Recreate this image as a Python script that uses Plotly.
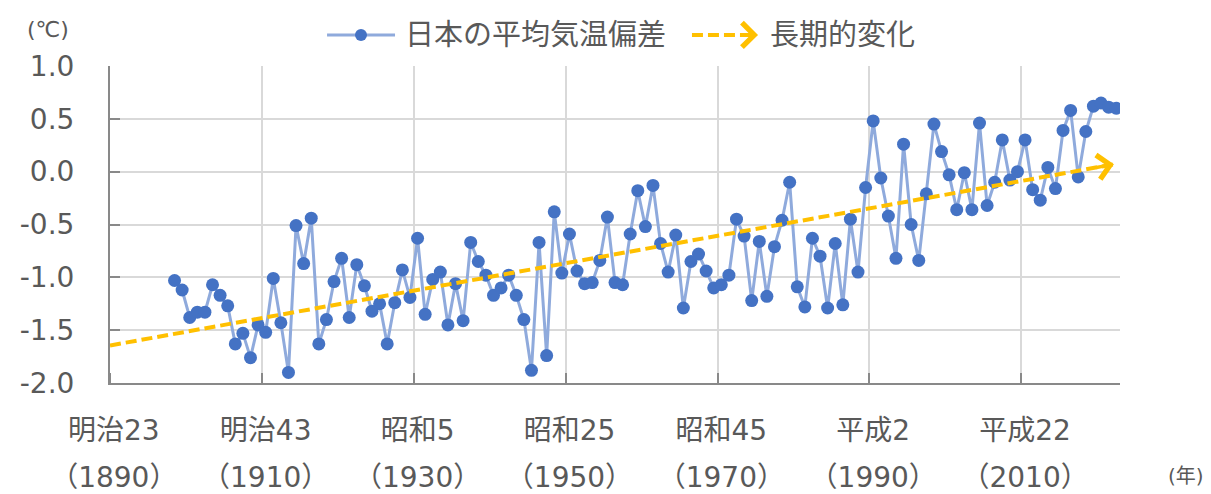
import plotly.graph_objects as go

# ---- data ----
years = list(range(1898, 2023))
anomaly = [
    -1.03, -1.12,                                                   # 1898-1899
    -1.38, -1.33, -1.33, -1.07, -1.17, -1.27, -1.63, -1.53, -1.76, -1.45,  # 1900s
    -1.52, -1.01, -1.43, -1.90, -0.51, -0.87, -0.44, -1.63, -1.40, -1.04,  # 1910s
    -0.82, -1.38, -0.88, -1.08, -1.32, -1.25, -1.63, -1.24, -0.93, -1.19,  # 1920s
    -0.63, -1.35, -1.02, -0.95, -1.45, -1.06, -1.41, -0.67, -0.85, -0.98,  # 1930s
    -1.17, -1.10, -0.98, -1.17, -1.40, -1.88, -0.67, -1.74, -0.38, -0.96,  # 1940s
    -0.59, -0.94, -1.06, -1.05, -0.84, -0.43, -1.05, -1.07, -0.59, -0.18,  # 1950s
    -0.52, -0.13, -0.68, -0.95, -0.60, -1.29, -0.85, -0.78, -0.94, -1.10,  # 1960s
    -1.07, -0.98, -0.45, -0.61, -1.22, -0.66, -1.18, -0.71, -0.46, -0.10,  # 1970s
    -1.09, -1.28, -0.63, -0.80, -1.29, -0.68, -1.26, -0.45, -0.95, -0.15,  # 1980s
    0.48, -0.06, -0.42, -0.82, 0.26, -0.50, -0.84, -0.21, 0.45, 0.19,      # 1990s
    -0.03, -0.36, -0.01, -0.36, 0.46, -0.32, -0.10, 0.30, -0.08, 0.00,     # 2000s
    0.30, -0.17, -0.27, 0.04, -0.16, 0.39, 0.58, -0.05, 0.38, 0.62,        # 2010s
    0.65, 0.61, 0.60,                                               # 2020-2022
]
trend_years = [1889.5, 2021.7]
trend_values = [-1.645, 0.07]

era_years = [1890, 1910, 1930, 1950, 1970, 1990, 2010]
era_labels = ["明治23", "明治43", "昭和5", "昭和25", "昭和45", "平成2", "平成22"]
year_labels = ["（1890）", "（1910）", "（1930）", "（1950）", "（1970）", "（1990）", "（2010）"]
y_ticks = [-2.0, -1.5, -1.0, -0.5, 0.0, 0.5, 1.0]
y_tick_labels = ["-2.0", "-1.5", "-1.0", "-0.5", "0.0", "0.5", "1.0"]

series_name = "日本の平均気温偏差"
trend_name = "長期的変化"

FONT = "DejaVu Sans, Noto Sans CJK JP, sans-serif"
TXT = "#595959"
GRID = "#d9d9d9"
AXIS = "#898989"
GOLD = "#FFC000"
LINE_BLUE = "#8FAADC"
DOT_BLUE = "#4472C4"
XR = [1889.5, 2022.5]
TREND_DASH = "11px,5px"

fig = go.Figure()
fig.add_trace(go.Scatter(
    x=years, y=anomaly, name=series_name, mode="lines+markers",
    line=dict(color=LINE_BLUE, width=3),
    marker=dict(color=DOT_BLUE, size=13, line=dict(width=0)),
    showlegend=False,
))
fig.add_trace(go.Scatter(
    x=trend_years, y=trend_values, name=trend_name, mode="lines",
    line=dict(color=GOLD, width=4, dash=TREND_DASH),
    showlegend=False,
))
# carrier for the second row of x labels (Western years)
fig.add_trace(go.Scatter(
    x=era_years, y=[None] * len(era_years), xaxis="x2", yaxis="y",
    mode="markers", showlegend=False, hoverinfo="skip",
))

# arrow head of the trend line
slope = (trend_values[-1] - trend_values[0]) / (trend_years[-1] - trend_years[0])
fig.add_annotation(
    x=trend_years[-1], y=trend_values[-1], xref="x", yref="y",
    ax=trend_years[-1] - 2.5, ay=trend_values[-1] - slope * 2.5,
    axref="x", ayref="y", text="", showarrow=True,
    arrowhead=4, arrowsize=1.35, arrowwidth=3.5, arrowcolor=GOLD, standoff=0,
)

# ---- legend (drawn in paper coordinates above the plot) ----
LEG_Y = 1.098
LEG_FONT = dict(size=29, color=TXT, family=FONT)
fig.add_shape(type="line", xref="paper", yref="paper",
              x0=0.2149, x1=0.2822, y0=LEG_Y, y1=LEG_Y,
              line=dict(color=LINE_BLUE, width=3))
fig.add_shape(type="circle", xref="paper", yref="paper",
              xsizemode="pixel", ysizemode="pixel",
              xanchor=0.2485, yanchor=LEG_Y, x0=-6, x1=6, y0=-6, y1=6,
              fillcolor=DOT_BLUE, line=dict(width=0))
fig.add_annotation(text=series_name, xref="paper", yref="paper",
                   x=0.2901, y=LEG_Y, xanchor="left", yanchor="middle",
                   showarrow=False, font=LEG_FONT)
fig.add_shape(type="line", xref="paper", yref="paper",
              x0=0.5762, x1=0.6376, y0=LEG_Y, y1=LEG_Y,
              line=dict(color=GOLD, width=4, dash=TREND_DASH))
fig.add_annotation(x=0.6416, y=LEG_Y, xref="paper", yref="paper",
                   ax=-12, ay=0, text="", showarrow=True,
                   arrowhead=4, arrowsize=1.35, arrowwidth=3.5,
                   arrowcolor=GOLD, standoff=0)
fig.add_annotation(text=trend_name, xref="paper", yref="paper",
                   x=0.6515, y=LEG_Y, xanchor="left", yanchor="middle",
                   showarrow=False, font=LEG_FONT)

fig.add_annotation(text="(℃)", xref="paper", yref="paper", x=-0.061, y=1.115,
                   xanchor="center", yanchor="middle", showarrow=False,
                   font=dict(size=22, color=TXT, family=FONT))
fig.add_annotation(text="(年)", xref="paper", yref="paper", x=1.065, y=-0.293,
                   xanchor="center", yanchor="middle", showarrow=False,
                   font=dict(size=20, color=TXT, family=FONT))

# page body has an 8px margin: size the figure so the plot area lands at
# x 110..1120, y 66..383 of the 1211x494 window
fig.update_layout(
    width=1203, height=486,
    margin=dict(l=102, r=91, t=58, b=111, autoexpand=False),
    plot_bgcolor="white", paper_bgcolor="white",
    font=dict(family=FONT, size=28, color=TXT),
    showlegend=False,
    xaxis=dict(
        range=XR, tickmode="array", tickvals=era_years, ticktext=era_labels,
        ticks="", showgrid=False, zeroline=False, automargin=False,
        showline=True, linecolor=AXIS, linewidth=2,
        ticklabelstandoff=21,
        tickfont=dict(size=28, color=TXT, family=FONT),
        minor=dict(tickmode="linear", tick0=1889.5, dtick=20, ticks="inside",
                   ticklen=10, tickwidth=2, tickcolor=AXIS,
                   showgrid=True, gridcolor=GRID, gridwidth=1.5),
    ),
    xaxis2=dict(
        range=XR, overlaying="x", anchor="y", side="bottom", automargin=False,
        tickmode="array", tickvals=era_years, ticktext=year_labels,
        ticks="", showgrid=False, zeroline=False, showline=False,
        ticklabelstandoff=75,
        tickfont=dict(size=28, color=TXT, family=FONT),
    ),
    yaxis=dict(
        range=[-2.0, 1.0], tickmode="array", tickvals=y_ticks, ticktext=y_tick_labels,
        showgrid=True, gridcolor=GRID, gridwidth=1.5, zeroline=False, automargin=False,
        showline=True, linecolor=AXIS, linewidth=2,
        ticks="inside", ticklen=10, tickwidth=2, tickcolor=AXIS,
        ticklabelstandoff=28,
        tickfont=dict(size=28, color=TXT, family=FONT),
    ),
)

fig.write_html("out.html")
